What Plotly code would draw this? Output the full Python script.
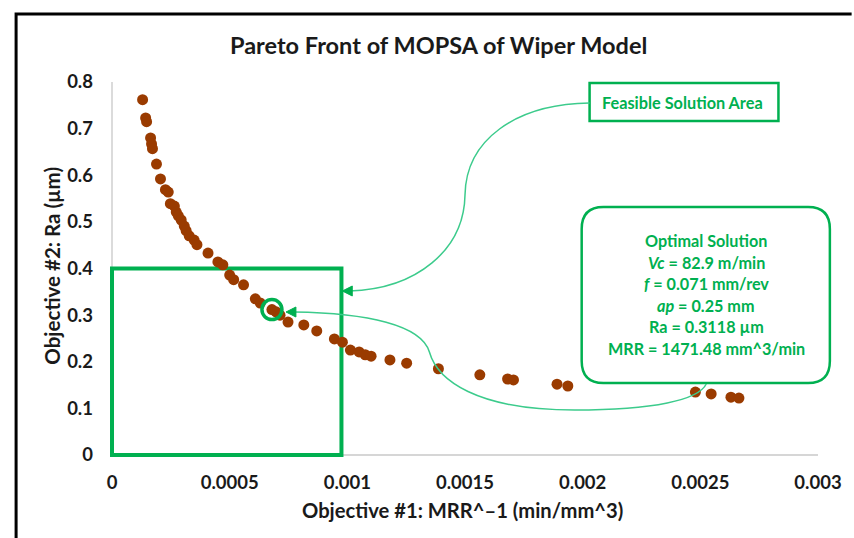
import plotly.graph_objects as go

# Pareto front: objective 1 = 1/MRR (min/mm^3), objective 2 = Ra (um)
mrr_inv = [0.000130, 0.000143, 0.000147, 0.000164, 0.000168, 0.000172, 0.000189,
           0.000206, 0.000227, 0.000239, 0.000248, 0.000265, 0.000273, 0.000282,
           0.000294, 0.000307, 0.000315, 0.000328, 0.000349, 0.000361, 0.000408,
           0.000450, 0.000471, 0.000500, 0.000517, 0.000559, 0.000609, 0.000630,
           0.00067959, 0.000697, 0.000714, 0.000748, 0.000815, 0.000870, 0.000945,
           0.000979, 0.001013, 0.001050, 0.001076, 0.001101, 0.001181, 0.001252,
           0.001387, 0.001563, 0.001681, 0.001706, 0.001891, 0.001937, 0.002479,
           0.002546, 0.002630, 0.002664]
ra = [0.762, 0.723, 0.715, 0.680, 0.667, 0.657, 0.624,
      0.592, 0.569, 0.564, 0.539, 0.534, 0.521, 0.513,
      0.504, 0.491, 0.481, 0.470, 0.461, 0.451, 0.433,
      0.414, 0.408, 0.386, 0.376, 0.365, 0.335, 0.326,
      0.3118, 0.307, 0.300, 0.285, 0.279, 0.266, 0.249,
      0.242, 0.225, 0.221, 0.215, 0.212, 0.204, 0.197,
      0.185, 0.172, 0.163, 0.161, 0.152, 0.148, 0.135,
      0.131, 0.124, 0.122]

x_ticks = [0, 0.0005, 0.001, 0.0015, 0.002, 0.0025, 0.003]
x_tick_text = ["0", "0.0005", "0.001", "0.0015", "0.002", "0.0025", "0.003"]
y_ticks = [0, 0.1, 0.2, 0.3, 0.4, 0.5, 0.6, 0.7, 0.8]
y_tick_text = ["0", "0.1", "0.2", "0.3", "0.4", "0.5", "0.6", "0.7", "0.8"]

# Optimal solution and feasible region limits
opt_mrr = 1471.48
opt_ra = 0.3118
opt_lines = ["Optimal Solution", "<i>Vc</i> = 82.9 m/min", "<i>f</i> = 0.071 mm/rev",
             "<i>ap</i> = 0.25 mm", "Ra = 0.3118 µm", "MRR = 1471.48 mm^3/min"]
feasible_x_max = 0.000975
feasible_y_max = 0.4

X_RANGE = [0, 0.003]
Y_RANGE = [0, 0.8]

W, H = 854, 538
ML, MR, MT, MB = 112, 28, 82, 83
PW, PH = W - ML - MR, H - MT - MB

GREEN = "#00B050"
LINK = "#3CCB8C"
BROWN = "#9A3B00"
TEXT = "#1A1A1A"
FONT = "Lato"


def px(x):
    """Horizontal pixel -> paper fraction."""
    return (x - ML) / PW


def py(y):
    """Vertical pixel (from top) -> paper fraction."""
    return (H - MB - y) / PH


def pt(x, y):
    return f"{px(x):.5f},{py(y):.5f}"


def xdom(v):
    return (v - X_RANGE[0]) / (X_RANGE[1] - X_RANGE[0])


def ydom(v):
    return (v - Y_RANGE[0]) / (Y_RANGE[1] - Y_RANGE[0])


fig = go.Figure()
fig.add_trace(go.Scatter(
    x=mrr_inv, y=ra, mode="markers",
    marker=dict(color=BROWN, size=11, line=dict(width=0)),
    hoverinfo="x+y", showlegend=False,
))

shapes = []
# axis lines
shapes.append(dict(type="line", xref="x domain", yref="y domain", x0=0, x1=1, y0=0, y1=0,
                   line=dict(color="#C8C8C8", width=1.3), layer="below"))
shapes.append(dict(type="line", xref="x domain", yref="y domain", x0=0, x1=0, y0=0, y1=1,
                   line=dict(color="#C8C8C8", width=1.3), layer="below"))
# feasible solution area
shapes.append(dict(type="rect", xref="x domain", yref="y domain",
                   x0=xdom(0), x1=xdom(feasible_x_max), y0=ydom(0), y1=ydom(feasible_y_max),
                   line=dict(color=GREEN, width=4), layer="below"))
# circle around the optimal point
shapes.append(dict(type="circle", xref="x", yref="y", xsizemode="pixel", ysizemode="pixel",
                   xanchor=1 / opt_mrr, yanchor=opt_ra, x0=-10, x1=10, y0=-10, y1=10,
                   line=dict(color=GREEN, width=3.5), layer="above"))
# outer frame
shapes.append(dict(type="path", xref="paper", yref="paper",
                   path=f"M {pt(15, 545)} L {pt(15, 14)} L {pt(860, 14)}",
                   line=dict(color="black", width=3)))
# feasible-area label box
shapes.append(dict(type="rect", xref="paper", yref="paper",
                   x0=px(595), x1=px(786), y0=py(121), y1=py(83),
                   line=dict(color=GREEN, width=2.5), fillcolor="white"))
# connector from label box to feasible area
shapes.append(dict(type="path", xref="paper", yref="paper",
                   path=(f"M {pt(595, 103)} C {pt(520, 104)} {pt(470, 140)} {pt(469, 195)} "
                         f"C {pt(468, 250)} {pt(420, 289)} {pt(352, 291)}"),
                   line=dict(color=LINK, width=1.5)))
shapes.append(dict(type="path", xref="paper", yref="paper",
                   path=f"M {pt(345, 291)} L {pt(355, 286)} L {pt(355, 296)} Z",
                   line=dict(color=GREEN, width=1), fillcolor=GREEN))
# optimal solution rounded box
x0b, x1b, y0b, y1b, r = 587, 838, 207, 383, 22
shapes.append(dict(type="path", xref="paper", yref="paper",
                   path=(f"M {pt(x0b + r, y0b)} L {pt(x1b - r, y0b)} Q {pt(x1b, y0b)} {pt(x1b, y0b + r)} "
                         f"L {pt(x1b, y1b - r)} Q {pt(x1b, y1b)} {pt(x1b - r, y1b)} "
                         f"L {pt(x0b + r, y1b)} Q {pt(x0b, y1b)} {pt(x0b, y1b - r)} "
                         f"L {pt(x0b, y0b + r)} Q {pt(x0b, y0b)} {pt(x0b + r, y0b)} Z"),
                   line=dict(color=GREEN, width=2.5), fillcolor="white"))
# connector from optimal box to circled point
shapes.append(dict(type="path", xref="paper", yref="paper",
                   path=(f"M {pt(713, 384)} C {pt(705, 400)} {pt(660, 410)} {pt(580, 410)} "
                         f"C {pt(480, 410)} {pt(441, 380)} {pt(433, 352)} "
                         f"C {pt(425, 325)} {pt(370, 313)} {pt(296, 312)}"),
                   line=dict(color=LINK, width=1.5)))
shapes.append(dict(type="path", xref="paper", yref="paper",
                   path=f"M {pt(288, 312)} L {pt(298, 307)} L {pt(298, 317)} Z",
                   line=dict(color=GREEN, width=1), fillcolor=GREEN))

annotations = []
annotations.append(dict(text="<b>Pareto Front of MOPSA of Wiper Model</b>", xref="paper", yref="paper",
                        x=px(442), y=py(45), showarrow=False, xanchor="center", yanchor="middle",
                        font=dict(family=FONT, size=23.5, color=TEXT)))
annotations.append(dict(text="<b>Objective #1: MRR^–1 (min/mm^3)</b>", xref="paper", yref="paper",
                        x=px(466), y=py(510), showarrow=False, xanchor="center", yanchor="middle",
                        font=dict(family=FONT, size=20.2, color=TEXT)))
annotations.append(dict(text="<b>Objective #2: Ra (µm)</b>", xref="paper", yref="paper",
                        x=px(51), y=py(266), showarrow=False, xanchor="center", yanchor="middle",
                        textangle=-90, font=dict(family=FONT, size=20.5, color=TEXT)))
annotations.append(dict(text="<b>Feasible Solution Area</b>", xref="paper", yref="paper",
                        x=px(689), y=py(102), showarrow=False, xanchor="center", yanchor="middle",
                        font=dict(family=FONT, size=16.3, color=GREEN)))
for i, line in enumerate(opt_lines):
    annotations.append(dict(text=f"<b>{line}</b>", xref="paper", yref="paper",
                            x=px(713), y=py(241 + 21.4 * i), showarrow=False,
                            xanchor="center", yanchor="middle",
                            font=dict(family=FONT, size=16.2, color=GREEN)))

fig.update_layout(
    width=W, height=H,
    margin=dict(l=ML, r=MR, t=MT, b=MB, pad=0),
    paper_bgcolor="white", plot_bgcolor="white",
    font=dict(family=FONT, color=TEXT),
    shapes=shapes, annotations=annotations,
    xaxis=dict(range=X_RANGE, tickvals=x_ticks, ticktext=[f"<b>{t}</b>" for t in x_tick_text],
               showgrid=False, zeroline=False, showline=False, ticks="",
               ticklabelstandoff=14, tickfont=dict(family=FONT, size=18.5, color=TEXT)),
    yaxis=dict(range=Y_RANGE, tickvals=y_ticks, ticktext=[f"<b>{t}</b>" for t in y_tick_text],
               showgrid=False, zeroline=False, showline=False, ticks="",
               ticklabelstandoff=18, tickfont=dict(family=FONT, size=18.5, color=TEXT)),
)

fig.write_html("out.html")
